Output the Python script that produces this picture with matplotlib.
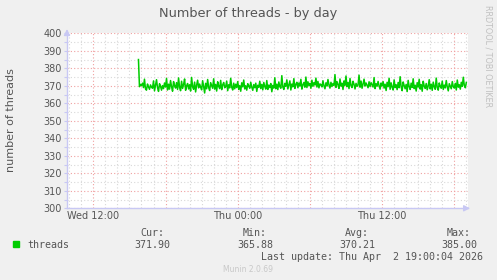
import numpy as np
import matplotlib
matplotlib.use("Agg")
import matplotlib.pyplot as plt
from matplotlib.ticker import MultipleLocator, FixedLocator

W, H = 497, 280
BG = "#f0f0f0"
GREEN = "#00cc00"
AXIS = "#c8c8f4"
MAJOR_GRID = "#f0a0a0"
MINOR_GRID = "#d8d8d8"
TXT = "#555555"

# hours since Wed 00:00, 5 minute samples from Wed 15:45 to Thu 19:00
t_start = 15.75
step_h = 5 / 60.0
threads = [
    385.0, 369.5, 370.8,
    370.2, 371.5, 369.0, 373.8, 368.2, 367.5, 371.0, 369.4, 368.0, 370.5, 369.2, 368.6,
    372.8, 367.1, 370.4, 373.5, 368.9, 366.8, 371.2, 369.8, 367.5, 370.1, 368.4, 371.6,
    369.3, 374.2, 367.6, 370.9, 368.1, 373.0, 369.5, 366.9, 372.4, 370.0, 368.7, 371.8,
    367.9, 374.5, 369.1, 367.2, 372.6, 368.5, 370.7, 373.9, 367.4, 369.9, 371.3, 368.2,
    370.6, 367.0, 374.8, 369.4, 368.0, 372.1, 366.5, 370.3, 373.2, 368.8, 371.0, 369.2,
    367.7, 372.9, 369.6, 365.9, 371.4, 368.3, 373.6, 369.0, 367.3, 371.8, 370.2, 368.6,
    374.0, 368.1, 370.8, 367.0, 372.3, 369.7, 368.4, 373.1, 367.8, 370.5, 371.9, 368.9,
    369.5, 372.7, 367.2, 370.6, 368.8, 374.3, 369.2, 367.6, 371.5, 368.3, 370.9, 369.0,
    372.4, 368.0, 370.1, 366.9, 371.7, 369.4, 373.3, 368.2, 370.0, 367.5, 371.2, 369.8,
    368.6, 372.0, 369.3, 367.4, 370.7, 368.9, 371.5, 366.8, 370.3, 369.1, 372.6, 368.4,
    370.8, 367.7, 371.9, 369.6, 368.1, 373.0, 367.9, 370.4, 369.0, 371.3, 366.6, 370.2,
    368.7, 374.6, 368.3, 370.9, 367.8, 372.2, 369.5, 368.6, 375.8, 369.3, 367.9, 371.4,
    369.7, 373.4, 368.2, 370.6, 372.8, 367.6, 371.0, 369.4, 374.1, 368.5, 370.8, 372.0,
    368.9, 371.6, 369.8, 373.7, 368.1, 370.5, 371.9, 369.2, 375.0, 369.0, 372.3, 370.1,
    371.4, 368.6, 373.2, 369.7, 371.8, 370.4, 374.4, 369.3, 372.5, 368.8, 371.1, 370.6,
    369.4, 372.9, 370.0, 368.3, 371.7, 369.9, 373.6, 370.5, 368.7, 372.0, 369.6, 371.3,
    370.2, 376.4, 369.1, 372.4, 370.7, 368.5, 373.9, 369.8, 371.5, 367.9, 372.8, 370.3,
    375.6, 369.5, 371.9, 368.4, 374.2, 370.1, 369.0, 372.6, 370.8, 368.2, 371.4, 369.7,
    370.4, 376.1, 369.2, 372.7, 368.6, 371.0, 373.8, 369.9, 371.6, 370.2, 368.9, 372.3,
    369.6, 371.8, 370.5, 369.3, 374.7, 368.4, 371.2, 369.8, 372.5, 370.0, 368.1, 371.6,
    369.9, 372.4, 368.7, 370.9, 367.3, 372.0, 369.5, 374.3, 368.0, 371.7, 369.2, 367.6,
    373.4, 369.0, 370.6, 367.8, 371.9, 368.9, 375.2, 369.4, 367.2, 372.2, 370.1, 368.3,
    370.8, 366.7, 373.1, 369.6, 367.9, 371.5, 369.1, 374.0, 368.4, 370.3, 367.0, 371.8,
    369.3, 373.7, 368.1, 370.7, 366.9, 372.6, 369.8, 368.5, 371.3, 367.7, 370.0, 373.5,
    368.2, 370.9, 367.4, 372.1, 369.4, 368.0, 374.4, 369.0, 367.5, 371.6, 369.7, 368.6,
    372.7, 367.9, 370.4, 368.8, 373.0, 369.3, 367.1, 371.2, 369.8, 368.3, 372.4, 369.5,
    368.7, 371.4, 367.6, 373.3, 369.2, 370.6, 368.1, 372.0, 369.7, 374.9, 370.2, 368.9,
    371.9,
]
x_ticks = [12, 24, 36]
x_labels = ["Wed 12:00", "Thu 00:00", "Thu 12:00"]
stats_names = ["Cur:", "Min:", "Avg:", "Max:"]
stats_values = ["371.90", "365.88", "370.21", "385.00"]

hours = t_start + step_h * np.arange(len(threads))

fig = plt.figure(figsize=(W / 100, H / 100), dpi=100, facecolor=BG)
ax = fig.add_axes([67 / W, 1 - 208.3 / H, (468 - 67) / W, (208.3 - 33.3) / H])
ax.set_facecolor("white")

ax.set_xlim(9.81, 43.14)
ax.set_ylim(300, 400)

# rrdtool style grid: grey dotted minor, red dotted major
ax.xaxis.set_minor_locator(MultipleLocator(1))
ax.xaxis.set_major_locator(FixedLocator([12, 18, 24, 30, 36, 42]))
ax.yaxis.set_minor_locator(MultipleLocator(5))
ax.yaxis.set_major_locator(MultipleLocator(10))
ax.grid(which="minor", color=MINOR_GRID, ls=(0, (1, 2)), lw=0.8)
ax.grid(which="major", color=MAJOR_GRID, ls=(0, (1, 2)), lw=0.8)
ax.set_axisbelow(True)

ax.set_xticklabels(["" if v not in x_ticks else x_labels[x_ticks.index(v)]
                    for v in [12, 18, 24, 30, 36, 42]])
ax.tick_params(axis="both", which="both", colors=AXIS, labelcolor=TXT,
               labelsize=7, length=2, width=0.8, pad=2)
ax.tick_params(axis="x", which="both", length=0)
ax.tick_params(axis="y", which="minor", length=2)

for s in ["top", "right"]:
    ax.spines[s].set_visible(False)
for s in ["left", "bottom"]:
    ax.spines[s].set_color(AXIS)
    ax.spines[s].set_linewidth(1.0)

ax.annotate("", xy=(0, 1.04), xytext=(0, 0.99), xycoords="axes fraction",
            arrowprops=dict(arrowstyle="-|>,head_length=0.35,head_width=0.18",
                            color=AXIS, lw=1), annotation_clip=False)
ax.annotate("", xy=(1.012, 0), xytext=(0.99, 0), xycoords="axes fraction",
            arrowprops=dict(arrowstyle="-|>,head_length=0.35,head_width=0.18",
                            color=AXIS, lw=1), annotation_clip=False)

ax.plot(hours, threads, color=GREEN, lw=1.1)


def ftext(x, y, s, **kw):
    fig.text(x / W, 1 - y / H, s, **kw)


ftext(248, 13.5, "Number of threads - by day", ha="center", va="center",
      fontsize=9.3, color=TXT)
ftext(11, 120, "number of threads", ha="center", va="center", rotation=90,
      fontsize=8, color=TXT)
ftext(488, 56, "RRDTOOL / TOBI OETIKER", ha="center", va="center",
      rotation=-90, fontsize=5.8, color="#c0c0c0")

mono = dict(family="DejaVu Sans Mono", fontsize=7.2, color=TXT, va="center")
fig.patches.append(plt.Rectangle((13 / W, 1 - 247 / H), 6 / W, 6 / H,
                                 transform=fig.transFigure, color=GREEN))
ftext(27, 244.5, "threads", ha="left", **mono)
for name, val, xr in zip(stats_names, stats_values, [170, 273, 375, 477]):
    ftext(xr - 6, 233.5, name, ha="right", **mono)
    ftext(xr, 244.5, val, ha="right", **mono)
ftext(483, 256.5, "Last update: Thu Apr  2 19:00:04 2026", ha="right", **mono)
ftext(248, 269.5, "Munin 2.0.69", ha="center", va="center", fontsize=5.5,
      color="#c8c8c8")

fig.savefig("out.png", dpi=100, facecolor=BG)
